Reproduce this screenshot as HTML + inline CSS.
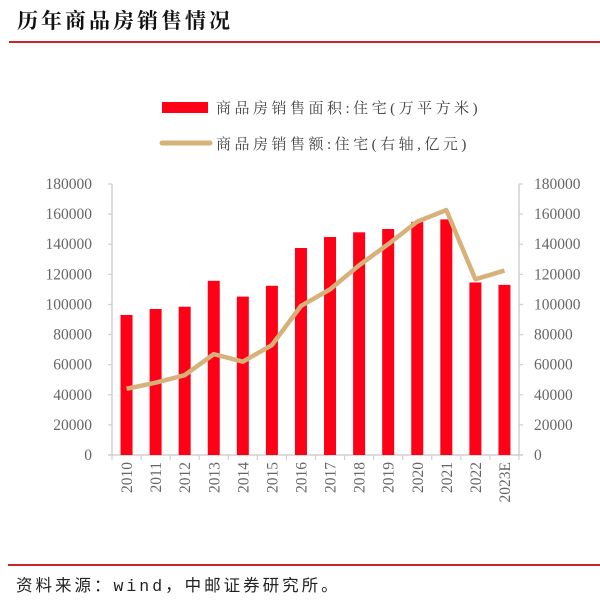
<!DOCTYPE html>
<html><head><meta charset="utf-8"><style>
html,body{margin:0;padding:0;background:#fff;}
svg{display:block;}
</style></head><body>
<svg width="600" height="612" xmlns="http://www.w3.org/2000/svg">
<text x="17" y="28" font-family="'Liberation Serif','Noto Serif CJK SC',serif" font-size="21" font-weight="bold" fill="#111" letter-spacing="3">历年商品房销售情况</text>
<rect x="9" y="41" width="591" height="2" fill="#c8262c"/>
<rect x="162" y="102" width="46" height="11" fill="#ff0016"/>
<text x="216" y="113" font-family="'Liberation Serif','Noto Serif CJK SC',serif" font-size="15" fill="#444" letter-spacing="3.5">商品房销售面积:住宅(万平方米)</text>
<line x1="162" y1="143" x2="210" y2="143" stroke="#d7b17a" stroke-width="5" stroke-linecap="round"/>
<text x="216" y="149" font-family="'Liberation Serif','Noto Serif CJK SC',serif" font-size="15" fill="#444" letter-spacing="3.5">商品房销售额:住宅(右轴,亿元)</text>
<g stroke="#d0d0d0" stroke-width="1.5">
<line x1="112" y1="184" x2="112" y2="455"/>
<line x1="519" y1="184" x2="519" y2="455"/>
<line x1="108" y1="455" x2="523" y2="455"/>
</g>
<g id="ticks" stroke="#d0d0d0" stroke-width="1.2"></g>
<g id="bars" fill="#ff0016"></g>
<g id="labels" font-family="'Liberation Serif',serif" font-size="15.5" fill="#666"></g>
<polyline id="line" fill="none" stroke="#d7b17a" stroke-width="4.5" stroke-linejoin="round"/>
<rect x="8" y="564" width="592" height="2" fill="#c8262c"/>
<text x="16" y="591" font-family="'Liberation Mono','Noto Sans CJK SC',monospace" font-size="16.5" fill="#222" letter-spacing="3">资料来源：wind，中邮证券研究所。</text>
</svg>
<script>
var ns="http://www.w3.org/2000/svg";
var yrs=["2010","2011","2012","2013","2014","2015","2016","2017","2018","2019","2020","2021","2022","2023E"];
var bars=[93000,97000,98500,115700,105200,112400,137500,144800,147900,150100,154900,156500,114600,113000];
var ln=[44000,48000,53000,67000,62000,73000,99000,110000,126000,140000,155000,162700,116700,122500];
var x0=112,w=(519-112)/14,y0=455,s=271/180000;
function el(t,a,p,txt){var e=document.createElementNS(ns,t);for(var k in a)e.setAttribute(k,a[k]);if(txt)e.textContent=txt;document.getElementById(p).appendChild(e);}
var pts=[];
for(var i=0;i<14;i++){var cx=x0+w*(i+0.5);
el("rect",{x:cx-6,y:y0-bars[i]*s,width:12,height:bars[i]*s},"bars");
pts.push(cx+","+(y0-ln[i]*s));
el("line",{x1:x0+w*(i+1),y1:455,x2:x0+w*(i+1),y2:460},"ticks");
el("text",{x:0,y:0,transform:"translate("+(cx+5.5)+",462) rotate(-90)","text-anchor":"end"},"labels",yrs[i]);}
el("line",{x1:x0,y1:455,x2:x0,y2:460},"ticks");
for(var v=0;v<=180000;v+=20000){var y=y0-v*s;
el("text",{x:92,y:y+5,"text-anchor":"end"},"labels",String(v));
el("text",{x:534,y:y+5},"labels",String(v));
el("line",{x1:108,y1:y,x2:112,y2:y},"ticks");
el("line",{x1:519,y1:y,x2:523,y2:y},"ticks");}
document.getElementById("line").setAttribute("points",pts.join(" "));
</script>
</body></html>
